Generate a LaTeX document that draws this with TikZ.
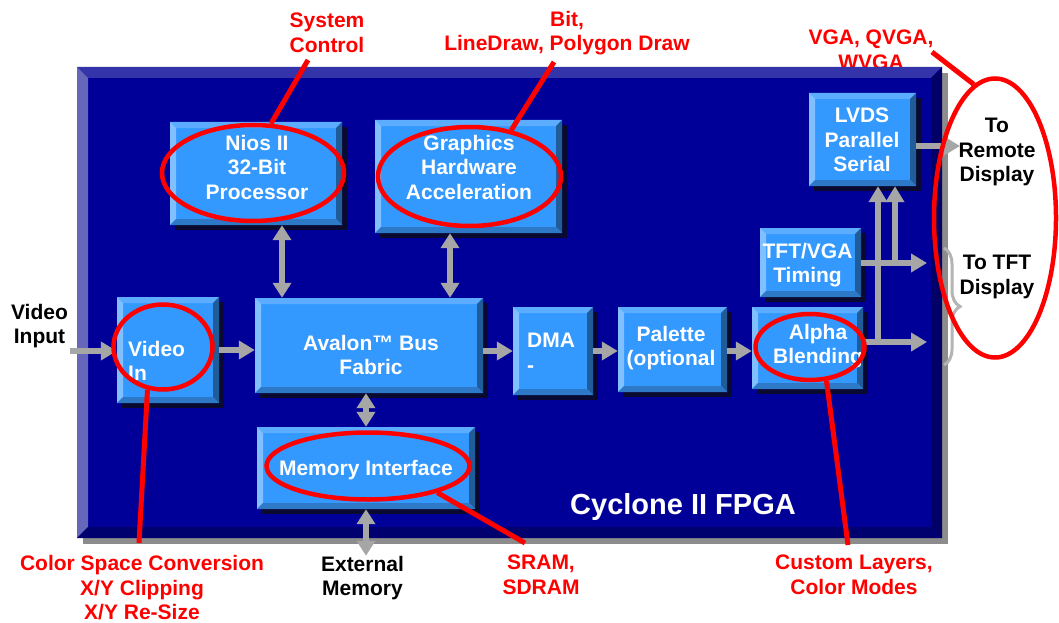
\documentclass[tikz,border=0pt]{standalone}
\usepackage{fontspec}
\setmainfont{Liberation Sans}
\usetikzlibrary{shapes.geometric,arrows.meta,shadows,decorations.pathreplacing}
\definecolor{fpgamain}{HTML}{000099}
\definecolor{fpgatop}{HTML}{3333AA}
\definecolor{fpgaleft}{HTML}{6666BB}
\definecolor{fpgaright}{HTML}{000066}
\definecolor{fpgabot}{HTML}{00006E}
\definecolor{blkmain}{HTML}{3399FF}
\definecolor{blktop}{HTML}{5CADFF}
\definecolor{blkleft}{HTML}{80C0FF}
\definecolor{blkright}{HTML}{1F5C99}
\definecolor{blkbot}{HTML}{2E78C8}
\definecolor{arrgray}{HTML}{A6A6A6}
\definecolor{bracegray}{HTML}{B4B4B4}
\definecolor{shdark}{HTML}{0A0A30}
\definecolor{shgray}{HTML}{8C8C8C}
\definecolor{lblred}{HTML}{FF0000}
\tikzset{
  bevel/.style n args={5}{path picture={
      \path (path picture bounding box.north west) coordinate (bvA)
            (path picture bounding box.north east) coordinate (bvB)
            (path picture bounding box.south east) coordinate (bvC)
            (path picture bounding box.south west) coordinate (bvD);
      \fill[#2] (bvA) -- (bvB) -- ([shift={(-#1,-#1)}]bvB) -- ([shift={(#1,-#1)}]bvA) -- cycle;
      \fill[#3] (bvA) -- (bvD) -- ([shift={(#1,#1)}]bvD) -- ([shift={(#1,-#1)}]bvA) -- cycle;
      \fill[#4] (bvB) -- (bvC) -- ([shift={(-#1,#1)}]bvC) -- ([shift={(-#1,-#1)}]bvB) -- cycle;
      \fill[#5] (bvD) -- (bvC) -- ([shift={(-#1,#1)}]bvC) -- ([shift={(#1,#1)}]bvD) -- cycle;
  }},
  blk/.style={rectangle, inner sep=0pt, fill=blkmain,
    bevel={6pt}{blktop}{blkleft}{blkright}{blkbot},
    drop shadow={shadow xshift=5pt, shadow yshift=-5pt, fill=shdark, opacity=1}},
  fpgabox/.style={rectangle, inner sep=0pt, fill=fpgamain,
    bevel={11pt}{fpgatop}{fpgaleft}{fpgaright}{fpgabot},
    drop shadow={shadow xshift=6pt, shadow yshift=-6pt, fill=shgray, opacity=1}},
  btxt/.style={text=white, font=\bfseries\fontsize{21}{24.5}\selectfont, align=center, inner sep=0pt},
  rtxt/.style={text=lblred, font=\bfseries\fontsize{21}{24.5}\selectfont, align=center, inner sep=0pt},
  ktxt/.style={text=black, font=\bfseries\fontsize{21}{24.5}\selectfont, align=center, inner sep=0pt},
  garr/.style={draw=arrgray, line width=6pt, -{Triangle[length=16pt,width=18pt]}},
  gdbl/.style={draw=arrgray, line width=6pt, {Triangle[length=15pt,width=18pt]}-{Triangle[length=15pt,width=18pt]}},
  rell/.style={ellipse, draw=lblred, line width=4.5pt, inner sep=0pt},
  rline/.style={draw=lblred, line width=5pt},
}
\begin{document}
\begin{tikzpicture}[x=1pt,y=-1pt]
\fill[white] (0,0) rectangle (1059,623);
\useasboundingbox (0,0) rectangle (1059,623);
% labels above the chip
\node[rtxt] (vgalbl) at (871,50) {VGA, QVGA,\\WVGA};
\node[rtxt] (sclbl) at (327,33) {System\\Control};
\node[rtxt] (bitlbl) at (567,33) {Bit,\\LineDraw, Polygon Draw};
% chip
\node[fpgabox, minimum width=865pt, minimum height=471pt] (fpga) at (509.5,302.5) {};
% blocks
\node[blk, minimum width=172pt, minimum height=103pt] (nios) at (256,173.5) {};
\node[blk, minimum width=187pt, minimum height=113pt] (gfx) at (468.5,176.5) {};
\node[blk, minimum width=102pt, minimum height=106pt] (vin) at (168,350) {};
\node[blk, minimum width=228pt, minimum height=95pt] (avalon) at (369,345.5) {};
\node[blk, minimum width=80pt, minimum height=88pt] (dma) at (553,351) {};
\node[blk, minimum width=109pt, minimum height=85pt] (pal) at (672.5,349.5) {};
\node[blk, minimum width=111pt, minimum height=82pt] (alpha) at (807.5,348) {};
\node[blk, minimum width=218pt, minimum height=82pt] (mem) at (366,468) {};
\node[blk, minimum width=107pt, minimum height=93pt] (lvds) at (862.5,139.5) {};
\node[blk, minimum width=101pt, minimum height=69pt] (tft) at (810.5,262.5) {};
% block texts
\node[btxt] (niosT) at (257,167) {Nios II\\32-Bit\\Processor};
\node[btxt] (gfxT) at (469,167) {Graphics\\Hardware\\Acceleration};
\node[btxt, align=left, anchor=west] (vinT) at (128,361) {Video\\In};
\node[btxt] (avalonT) at (371,355) {Avalon™ Bus\\Fabric};
\node[btxt, align=left, anchor=west] (dmaT) at (527,353) {DMA\\-};
\node[btxt] (palT) at (671,348) {Palette\\(optional};
\begin{scope}
  \clip (alpha.north west) rectangle ([xshift=-3pt]alpha.south east);
  \node[btxt] (alphaT) at (818,346) {Alpha\\Blending};
\end{scope}
\node[btxt] (memT) at (366,470) {Memory Interface};
\node[btxt] (lvdsT) at (862,140) {LVDS\\Parallel\\Serial};
\begin{scope}
  \clip (tft.north west) rectangle (tft.south east);
  \node[btxt] (tftT) at (807.5,265) {TFT/VGA\\Timing};
\end{scope}
\node[text=white, font=\bfseries\fontsize{29}{34}\selectfont, inner sep=0pt] (cyc) at (683,507) {Cyclone II FPGA};
% grey connectors
\coordinate (vsrc) at (70,351);
\draw[garr] (vsrc) -- (vsrc -| vin.west);
\draw[garr] (vin.east) -- (vin.east -| avalon.west);
\draw[garr] (avalon.east |- dma.west) -- (dma.west);
\draw[garr] (dma.east) -- (dma.east -| pal.west);
\draw[garr] (pal.east |- dma.east) -- (dma.east -| alpha.west);
\draw[gdbl] ([xshift=26pt]nios.south) -- ([xshift=26pt]nios.south |- avalon.north);
\draw[gdbl] ([xshift=-18.5pt]gfx.south) -- ([xshift=-18.5pt]gfx.south |- avalon.north);
\draw[gdbl] (avalon.south -| mem.north) -- (mem.north);
\coordinate (aout) at (927,342);
\coordinate (tout) at (927,263);
\coordinate (rout) at (960,146);
\coordinate (j1) at (878,342);
\coordinate (j2) at (895,263);
\draw[garr] (j1) -- (j1 |- lvds.south);
\draw[garr] (j2) -- (j2 |- lvds.south);
\draw[garr] (alpha.east |- aout) -- (aout);
\draw[garr] (tft.east |- tout) -- (tout);
\draw[garr] (lvds.east |- rout) -- (rout);
% brace
\draw[draw=bracegray, line width=3pt, decorate, decoration={brace, amplitude=16pt}] (944,248) -- (944,365);
% outside texts
\node[ktxt] (ext) at (362.5,578) {External\\Memory};
\draw[gdbl] (mem.south) -- (mem.south |- ext.north);
\node[ktxt] (vidin) at (39.5,326) {Video\\Input};
\node[rtxt] (csc) at (142,588) {Color Space Conversion\\X/Y Clipping\\X/Y Re-Size};
\node[rtxt] (sram) at (541,575) {SRAM,\\SDRAM};
\node[rtxt] (cust) at (854,575) {Custom Layers,\\Color Modes};
% red ellipses
\node[rell, minimum width=182pt, minimum height=96pt] (niosE) at (253,173) {};
\node[rell, minimum width=183pt, minimum height=99pt] (gfxE) at (469.5,176.5) {};
\node[rell, minimum width=99pt, minimum height=85pt] (vinE) at (163,347) {};
\node[rell, minimum width=203pt, minimum height=67pt] (memE) at (368,466) {};
\node[rell, minimum width=109pt, minimum height=66pt] (alphaE) at (810,347) {};
\node[rell, minimum width=122pt, minimum height=279pt] (bigE) at (995,218) {};
\node[ktxt] (remote) at (997,152) {To\\Remote\\Display};
\node[ktxt] (tftd) at (997,277) {To TFT\\Display};
% red pointer lines
\coordinate (scP) at (308,60);
\coordinate (bitP) at (554,62);
\coordinate (vgaP) at (932,52);
\coordinate (cscP) at (139,543);
\coordinate (sramP) at (525,543);
\coordinate (custP) at (848,545);
\draw[rline] (scP) -- (niosE.70);
\draw[rline] (bitP) -- (gfxE.48);
\draw[rline] (vgaP) -- (bigE.99);
\draw[rline] (vinE.250) -- (cscP);
\draw[rline] (memE.339) -- (sramP);
\draw[rline] (alphaE.296) -- (custP);
\end{tikzpicture}
\end{document}
